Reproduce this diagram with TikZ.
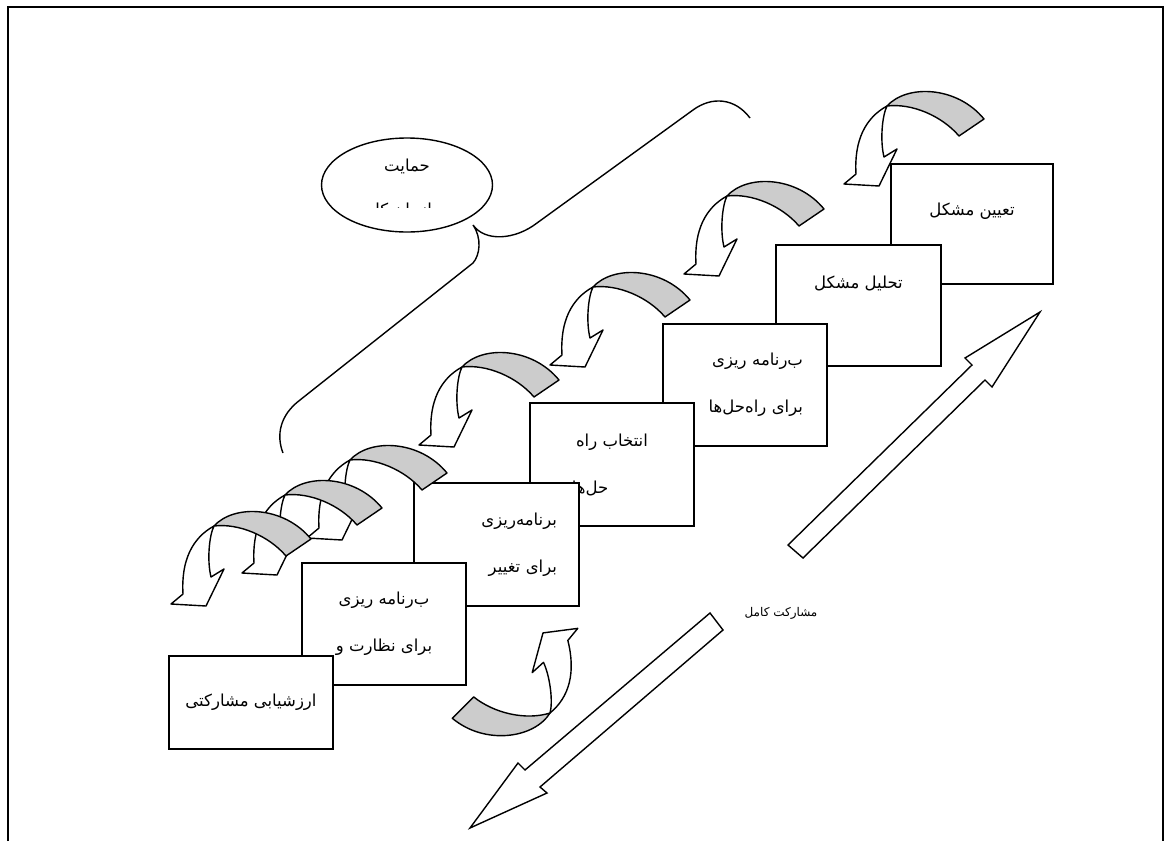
\documentclass[tikz,border=0pt]{standalone}
\usepackage{fontspec}
\newfontfamily\farsi[Script=Arabic]{DejaVu Sans}
\TeXXeTstate=1
\usetikzlibrary{shapes.geometric}

\newcommand{\fatext}[1]{\beginR #1\endR}

\begin{document}
\begin{tikzpicture}[x=1pt, y=-1pt, line width=1.4pt]
	\tikzset{stage/.style = {draw, fill=white, inner sep=0pt,
	minimum width=164pt, minimum height=122pt, align=center,
	font=\farsi\fontsize{16.5}{47}\selectfont}}
	\tikzset{bubble/.style = {draw, ellipse, inner sep=0pt,
	minimum width=171pt, minimum height=94pt}}
	\tikzset{twistback/.style = {draw, fill=black!20, line join=round}}
	\tikzset{twistfront/.style = {draw, fill=white, line join=round}}
	\tikzset{bigarrow/.style = {draw, fill=white, line join=miter}}
	
	\useasboundingbox (0,0) rectangle (1170,841);
	\draw[line width=1.2pt] (8,841) -- (8,7) -- (1163,7) -- (1163,841);
	
	% the steps, from the top down
	\node[stage, minimum width=162pt, minimum height=120pt] (define) at (972, 224)
	{\fatext{تعیین مشکل}\\[-18pt]~};
	\node[stage, minimum width=165pt, minimum height=121pt] (analyse) at (858.5, 305.5)
	{\fatext{تحلیل مشکل}\\~};
	\node[stage, text width=116pt, align=right] (plansol) at (745, 385)
	{\fatext{ب^^^^200cرنامه ریزی}\\\fatext{برای راه^^^^200cحل^^^^200cها}};
	\node[stage, minimum height=123pt] (choose) at (612, 464.5)
	{\fatext{انتخاب راه}\\\fatext{حل^^^^200cها}\hspace*{44pt}};
	\node[stage, minimum width=165pt, minimum height=123pt, text width=121pt,
	align=right] (planchange) at (496.5, 544.5)
	{\fatext{برنامه^^^^200cریزی}\\\fatext{برای تغییر}};
	\node[stage] (plancontrol) at (384, 624)
	{\fatext{ب^^^^200cرنامه ریزی}\\\fatext{برای نظارت و}};
	\node[stage, minimum height=93pt] (evaluate) at (251, 702.5)
	{\fatext{ارزشیابی مشارکتی}};
	
	% support bubble and brace
	\node[bubble] (support) at (407, 185) {};
	\node[font=\farsi\fontsize{16.5}{18}\selectfont] (supporttop) at (407, 166)
	{\fatext{حمایت}};
	\begin{scope}
		\clip (320, 120) rectangle (495, 207);
		\node[font=\farsi\fontsize{16.5}{18}\selectfont] (supportcut) at (407, 211)
		{\fatext{سازمان کل}};
	\end{scope}
	\draw (750, 118) .. controls (735, 98) and (712, 96) .. (693, 110)
	-- (537, 223) .. controls (515, 240) and (485, 242) .. (473, 225)
	.. controls (482, 238) and (480, 255) .. (473, 263)
	-- (300, 400) .. controls (280, 415) and (276, 435) .. (283, 453);
	
	% twisted arrows between the steps
	\foreach \ox/\oy/\rot in {887/106/0, 727/196/0, 593/287/0, 462/367/0,
	350/460/0, 285/495/0, 214/526/0, 550/713/190.7} {
		\begin{scope}[shift={(\ox, \oy)}, rotate=\rot]
			\draw[twistback] (0, 0) .. controls (20, -22) and (70, -20) .. (97, 13)
			-- (72, 30) .. controls (55, 10) and (25, -3) .. (0, 0) -- cycle;
			\draw[twistfront] (0, 0) .. controls (-22, 12) and (-33, 35) .. (-31, 68)
			-- (-43, 78) -- (-8, 80) -- (10, 43) -- (-3, 51)
			.. controls (-7, 35) and (-5, 10) .. (0, 0) -- cycle;
		\end{scope}
	}
	
	% block arrows
	\draw[bigarrow] (788, 545) -- (972, 365) -- (965, 358) -- (1040, 312)
	-- (992, 387) -- (985, 380) -- (803, 558) -- cycle;
	\draw[bigarrow] (710, 613) -- (525, 770) -- (518, 763) -- (470, 828)
	-- (547, 793) -- (540, 787) -- (723, 630) -- cycle;
	\node[font=\farsi\fontsize{12}{14}\selectfont] (fullpart) at (781, 613)
	{\fatext{مشارکت کامل}};
\end{tikzpicture}
\end{document}
